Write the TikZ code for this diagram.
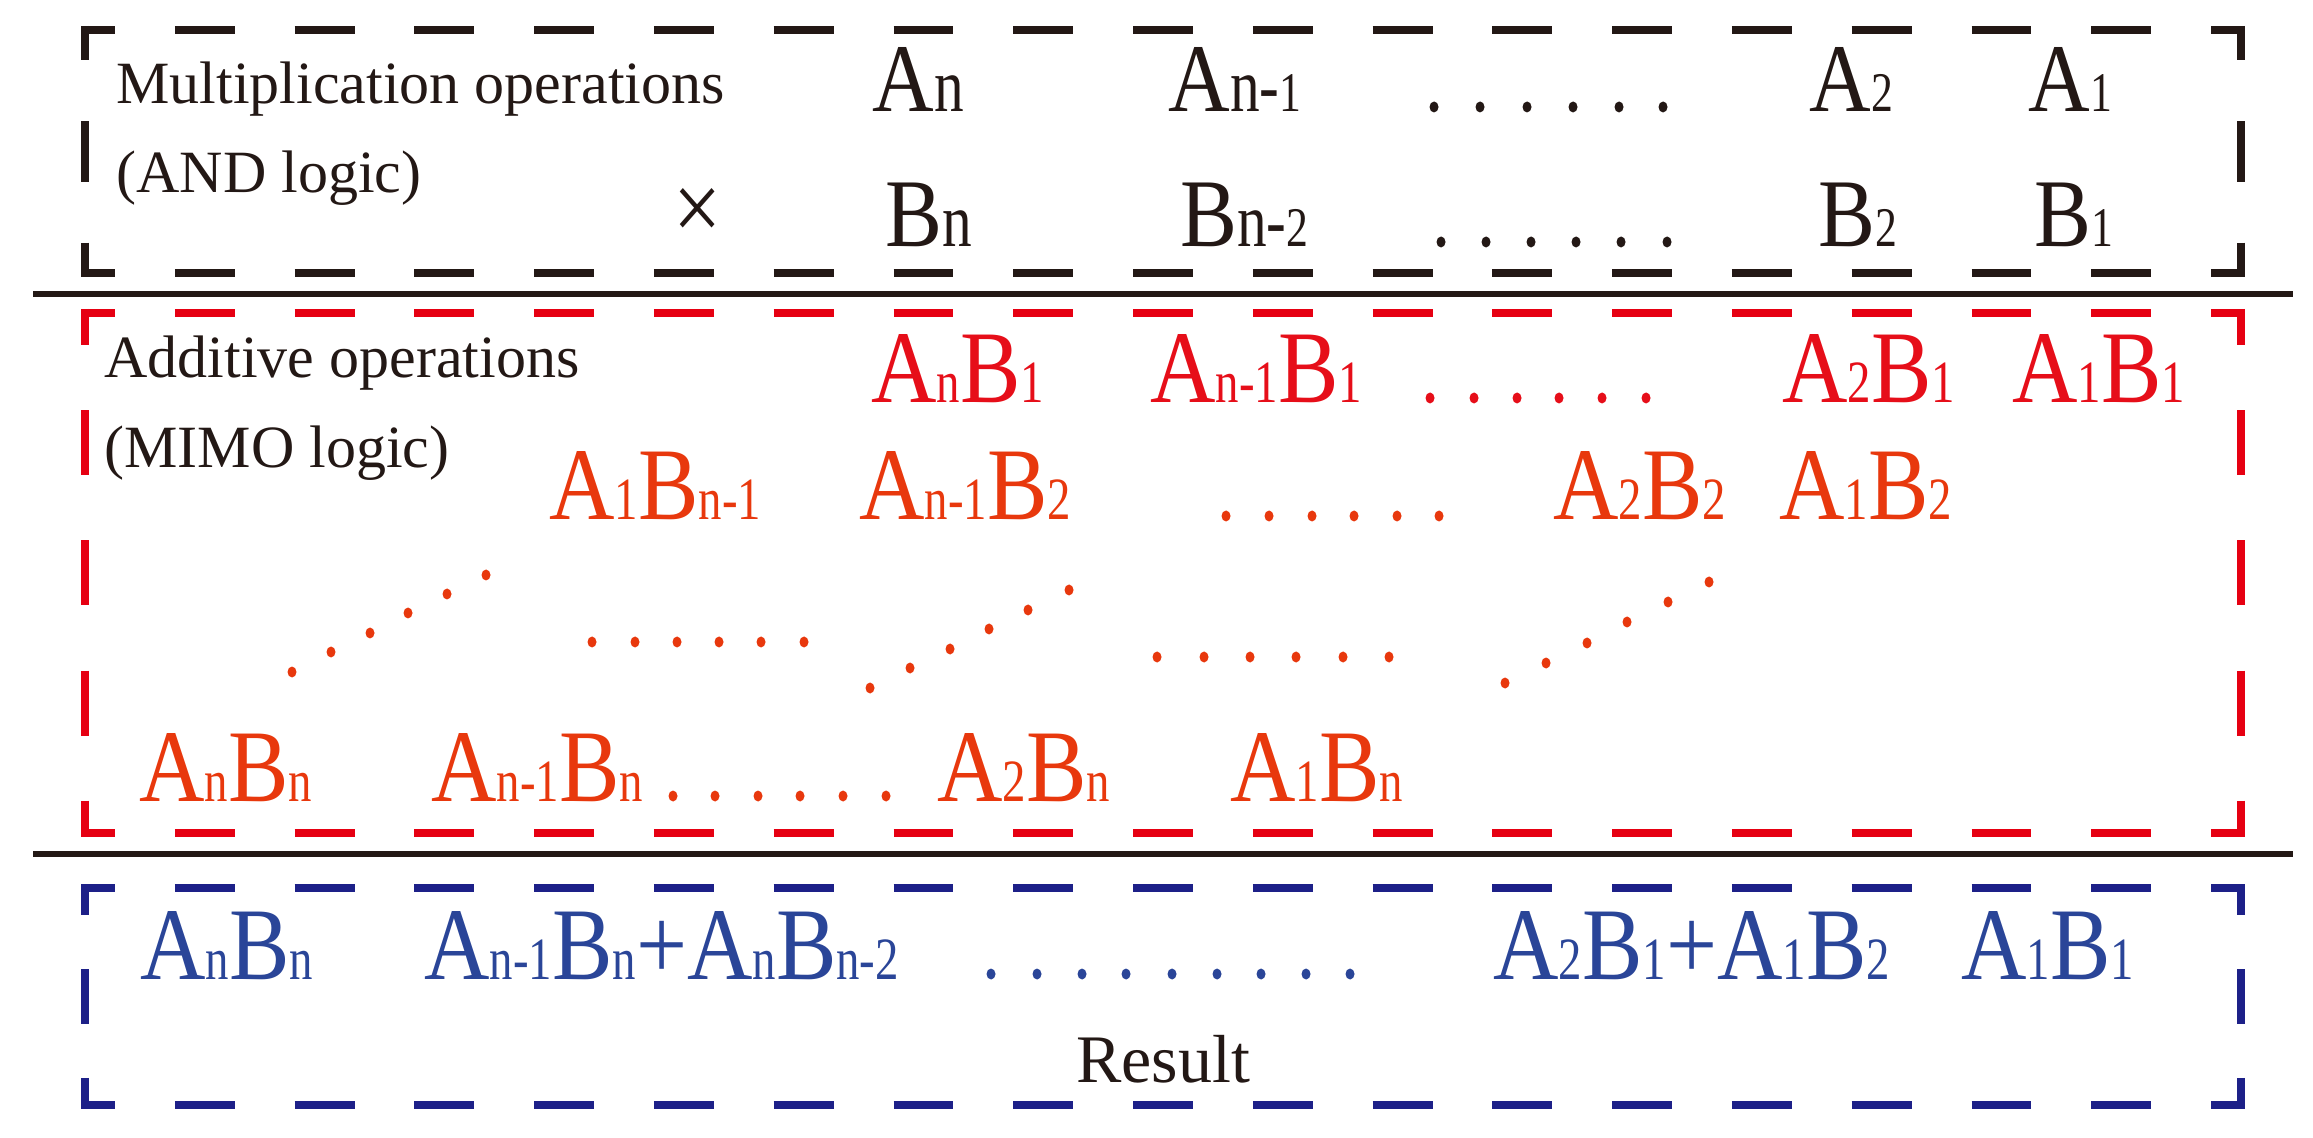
\documentclass[tikz,border=0pt]{standalone}
\usepackage{fontspec}
\setmainfont{Liberation Serif}
\newfontfamily\condf[FakeStretch=0.88]{Liberation Serif}
\newfontfamily\subfam[FakeStretch=0.78]{Liberation Serif}
\definecolor{ink}{HTML}{231815}
\definecolor{redline}{HTML}{E60012}
\definecolor{redtxt}{HTML}{E60E19}
\definecolor{orangetxt}{HTML}{E8380D}
\definecolor{blueline}{HTML}{1D2088}
\definecolor{bluetxt}{HTML}{2A4598}
\newcommand\bigsz{\condf\fontsize{51.5}{52}\selectfont}
\newcommand\blksz{\condf\fontsize{48.5}{49}\selectfont}
\newcommand\rs[1]{{\subfam\fontsize{30}{30}\selectfont #1}}
\newcommand\kn[1]{{\subfam\fontsize{38}{38}\selectfont #1}}
\newcommand\kd[1]{{\subfam\fontsize{28}{28}\selectfont #1}}
\newcommand\dbox[7]{%
  \pgfmathsetmacro\dH{(#4-#2)/(2*#6+2)/2}%
  \pgfmathsetmacro\dV{(#5-#3)/(2*#7+2)/2}%
  \pgfmathsetmacro\pH{\dH/2-2}%
  \pgfmathsetmacro\pV{\dV/2-2}%
  \draw[#1,boxline,dash pattern=on \dH pt off \dH pt,dash phase=\pH pt] (#2-4,#3) -- (#4+4,#3);
  \draw[#1,boxline,dash pattern=on \dH pt off \dH pt,dash phase=\pH pt] (#2-4,#5) -- (#4+4,#5);
  \draw[#1,boxline,dash pattern=on \dV pt off \dV pt,dash phase=\pV pt] (#2,#3-4) -- (#2,#5+4);
  \draw[#1,boxline,dash pattern=on \dV pt off \dV pt,dash phase=\pV pt] (#4,#3-4) -- (#4,#5+4);
}
\tikzset{
  boxline/.style={line width=4pt,line cap=butt},
  sepline/.style={ink,line width=2.8pt},
  lab/.style={anchor=base west,inner sep=0pt,text=ink,font=\fontsize{30}{30}\selectfont},
  blk/.style={anchor=base west,inner sep=0pt,text=ink,font=\blksz},
  redA/.style={anchor=base west,inner sep=0pt,text=redtxt,font=\bigsz},
  redB/.style={anchor=base west,inner sep=0pt,text=orangetxt,font=\bigsz},
  blu/.style={anchor=base west,inner sep=0pt,text=bluetxt,font=\bigsz},
  dotfill/.style={fill=#1},
}
\newcommand\pt[3]{\fill[#1] (#2,#3) ellipse [x radius=2.25pt,y radius=2.75pt];}
\begin{document}
\begin{tikzpicture}[x=0.5pt,y=-0.5pt]
\useasboundingbox (0,0) rectangle (2313,1138);
% boxes
\dbox{ink}{85}{30}{2241}{273}{17}{1}
\dbox{redline}{85}{313}{2241}{833}{17}{3}
\dbox{blueline}{85}{888}{2241}{1105}{17}{1}
% separator lines
\coordinate (s1a) at (33,294); \coordinate (s1b) at (2293,294);
\coordinate (s2a) at (33,854); \coordinate (s2b) at (2293,854);
\draw[sepline] (s1a) -- (s1b);
\draw[sepline] (s2a) -- (s2b);
% ---------- multiplication box
\node[lab] (labmul) at (116,104) {Multiplication operations};
\node[lab] (laband) at (116,193) {(AND logic)};
\node[anchor=center,inner sep=0pt,text=ink,font=\blksz] (times) at (698,215) {×};
\node[blk] (an) at (872,112) {A\kn{n}};
\node[blk] (an1) at (1168,112) {A\kn{n-}\kd{1}};
\node[blk] (a2) at (1809,112) {A\kd{2}};
\node[blk] (a1) at (2028,112) {A\kd{1}};
\node[blk] (bn) at (885,247) {B\kn{n}};
\node[blk] (bn2) at (1180,247) {B\kn{n-}\kd{2}};
\node[blk] (b2) at (1818,247) {B\kd{2}};
\node[blk] (b1) at (2034,247) {B\kd{1}};
\foreach \x in {1434,1480,1527,1573,1619,1663} {\pt{ink}{\x}{107}}
\foreach \x in {1441,1486,1531,1576,1621,1667} {\pt{ink}{\x}{242}}
% ---------- additive box
\node[lab] (labadd) at (104,378) {Additive operations};
\node[lab] (labmimo) at (104,468) {(MIMO logic)};
\node[redA] (r11) at (871,403) {A\rs{n}B\rs{1}};
\node[redA] (r12) at (1150,403) {A\rs{n-1}B\rs{1}};
\node[redA] (r13) at (1782,403) {A\rs{2}B\rs{1}};
\node[redA] (r14) at (2012,403) {A\rs{1}B\rs{1}};
\foreach \x in {1430,1474,1517,1559,1602,1646} {\pt{redtxt}{\x}{398}}
\node[redB] (r21) at (549,520) {A\rs{1}B\rs{n-1}};
\node[redB] (r22) at (859,520) {A\rs{n-1}B\rs{2}};
\node[redB] (r23) at (1553,520) {A\rs{2}B\rs{2}};
\node[redB] (r24) at (1779,520) {A\rs{1}B\rs{2}};
\foreach \x in {1226,1269,1312,1354,1397,1439} {\pt{orangetxt}{\x}{516}}
\foreach \x/\y in {292/672,331/652,370/633,408/613,447/594,486/575} {\pt{orangetxt}{\x}{\y}}
\foreach \x in {592,635,677,719,761,804} {\pt{orangetxt}{\x}{642}}
\foreach \x/\y in {870/688,910/668,950/649,989/629,1028/610,1069/590} {\pt{orangetxt}{\x}{\y}}
\foreach \x in {1157,1204,1250,1296,1343,1389} {\pt{orangetxt}{\x}{657}}
\foreach \x/\y in {1505/683,1546/663,1587/643,1627/622,1668/602,1709/582} {\pt{orangetxt}{\x}{\y}}
\node[redB] (r31) at (139,801) {A\rs{n}B\rs{n}};
\node[redB] (r32) at (431,801) {A\rs{n-1}B\rs{n}};
\node[redB] (r33) at (937,801) {A\rs{2}B\rs{n}};
\node[redB] (r34) at (1230,801) {A\rs{1}B\rs{n}};
\foreach \x in {673,715,758,800,843,886} {\pt{orangetxt}{\x}{796}}
% ---------- result box
\node[blu] (q1) at (140,979) {A\rs{n}B\rs{n}};
\node[blu] (q2) at (424,979) {A\rs{n-1}B\rs{n}+A\rs{n}B\rs{n-2}};
\node[blu] (q3) at (1493,979) {A\rs{2}B\rs{1}+A\rs{1}B\rs{2}};
\node[blu] (q4) at (1961,979) {A\rs{1}B\rs{1}};
\foreach \x in {991,1037,1082,1126,1172,1217,1261,1306,1350} {\pt{bluetxt}{\x}{974}}
\node[anchor=base west,inner sep=0pt,text=ink,font=\fontsize{34}{34}\selectfont] (result) at (1076,1082) {Result};
\end{tikzpicture}
\end{document}
